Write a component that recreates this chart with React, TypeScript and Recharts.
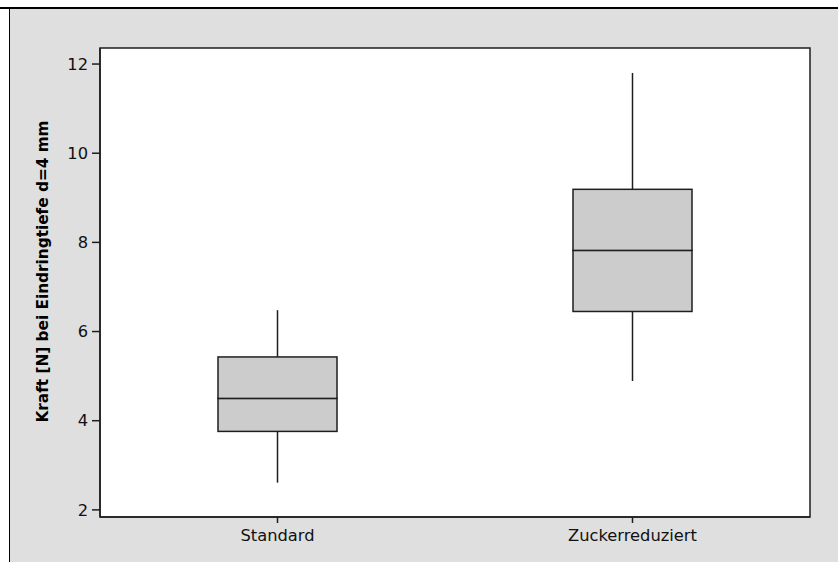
import React from 'react';
import { BarChart, Bar, XAxis, YAxis, CartesianGrid, Label, ReferenceArea } from 'recharts';

// five-number summaries
const categories = ['Standard', 'Zuckerreduziert'];
const whiskerLow = [2.61, 4.89];
const quartile1 = [3.76, 6.45];
const medians = [4.5, 7.82];
const quartile3 = [5.43, 9.19];
const whiskerHigh = [6.48, 11.8];
const yTicks = [2, 4, 6, 8, 10, 12];
const yDomain = [1.84, 12.36];

const rows = categories.map((name, i) => ({
  name,
  base: whiskerLow[i],
  lowWhisker: quartile1[i] - whiskerLow[i],
  lowBox: medians[i] - quartile1[i],
  highBox: quartile3[i] - medians[i],
  highWhisker: whiskerHigh[i] - quartile3[i],
}));

const ink = '#1e1e1e';
const font = '"DejaVu Sans", Verdana, sans-serif';

const Whisker = (props: any) => {
  const { x, y, width, height } = props;
  const cx = x + width / 2;
  return <line x1={cx} x2={cx} y1={y} y2={y + height} stroke={ink} strokeWidth={1.5} />;
};

const Box = (props: any) => {
  const { x, y, width, height } = props;
  return <rect x={x} y={y} width={width} height={height} fill="#cccccc" stroke={ink} strokeWidth={1.5} />;
};

const YTitle = (props: any) => {
  const vb = props.viewBox || {};
  const cy = (vb.y ?? 48) + (vb.height ?? 469) / 2 - 11;
  return (
    <text
      x={43}
      y={cy}
      transform={`rotate(-90, 43, ${cy})`}
      textAnchor="middle"
      dominantBaseline="central"
      fontFamily={font}
      fontWeight="bold"
      fontSize={15.3}
      fill="#000"
    >
      Kraft [N] bei Eindringtiefe d=4 mm
    </text>
  );
};

export default function App() {
  return (
    <div style={{ position: 'absolute', left: 0, top: 0, width: 838, height: 562, overflow: 'hidden' }}>
      <div style={{ position: 'absolute', left: 0, top: 7, width: 838, height: 2, background: '#000' }} />
      <div
        style={{
          position: 'absolute',
          left: 9,
          top: 9,
          width: 829,
          height: 553,
          background: '#dfdfdf',
          borderLeft: '1px solid #000',
        }}
      />
      <div style={{ position: 'absolute', left: 0, top: 0 }}>
        <BarChart
          width={838}
          height={562}
          data={rows}
          margin={{ top: 48, right: 28, left: 0, bottom: 0 }}
          barSize={119}
        >
          <CartesianGrid fill="#ffffff" horizontal={false} vertical={false} />
          <XAxis
            dataKey="name"
            height={45}
            tickSize={6}
            tickMargin={6}
            stroke={ink}
            strokeWidth={1.5}
            tick={{ fill: '#111', fontSize: 16.3, fontFamily: font }}
          />
          <YAxis
            type="number"
            width={100}
            domain={yDomain}
            ticks={yTicks}
            allowDataOverflow
            tickSize={8}
            tickMargin={4}
            stroke={ink}
            strokeWidth={1.5}
            tick={{ fill: '#111', fontSize: 16.3, fontFamily: font }}
          >
            <Label content={<YTitle />} />
          </YAxis>
          <Bar dataKey="base" stackId="box" fill="none" isAnimationActive={false} />
          <Bar dataKey="lowWhisker" stackId="box" shape={<Whisker />} isAnimationActive={false} />
          <Bar dataKey="lowBox" stackId="box" shape={<Box />} isAnimationActive={false} />
          <Bar dataKey="highBox" stackId="box" shape={<Box />} isAnimationActive={false} />
          <Bar dataKey="highWhisker" stackId="box" shape={<Whisker />} isAnimationActive={false} />
          <ReferenceArea
            x1={categories[0]}
            x2={categories[categories.length - 1]}
            y1={yDomain[0]}
            y2={yDomain[1]}
            fill="none"
            stroke={ink}
            strokeWidth={1.5}
          />
        </BarChart>
      </div>
    </div>
  );
}
